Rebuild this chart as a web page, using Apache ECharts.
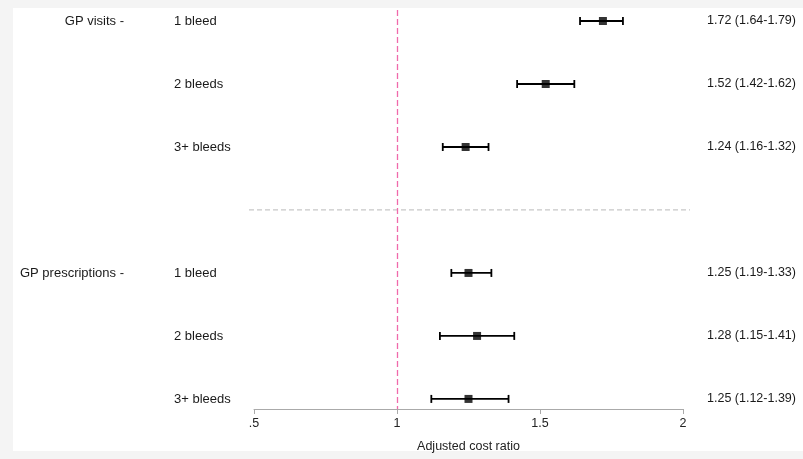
<!DOCTYPE html>
<html>
<head>
<meta charset="utf-8">
<script src="https://cdn.jsdelivr.net/npm/echarts@6/dist/echarts.min.js"></script>
<style>
html,body{margin:0;padding:0;background:#f4f4f4;}
#main{width:803px;height:459px;}
</style>
</head>
<body>
<div id="main"></div>
<script>
// ---- data ----
const groupLabels = ['GP visits -', '', '', 'GP prescriptions -', '', ''];
const subLabels = ['1 bleed', '2 bleeds', '3+ bleeds', '1 bleed', '2 bleeds', '3+ bleeds'];
const estimates = [1.72, 1.52, 1.24, 1.25, 1.28, 1.25];
const lowerCI = [1.64, 1.42, 1.16, 1.19, 1.15, 1.12];
const upperCI = [1.79, 1.62, 1.32, 1.33, 1.41, 1.39];
const rowPositions = [0, 1, 2, 4, 5, 6];
const separatorRow = 3;
const xTickLabels = {0.5: '.5', 1: '1', 1.5: '1.5', 2: '2'};
const referenceValue = 1;
const xTitle = 'Adjusted cost ratio';

// ---- chart ----
const chart = echarts.init(document.getElementById('main'));
const font = 'Liberation Sans, Arial, Helvetica, sans-serif';
const ciData = estimates.map((e, i) => [e, rowPositions[i], lowerCI[i], upperCI[i]]);
const labelData = estimates.map((e, i) => [e, rowPositions[i], lowerCI[i], upperCI[i], i]);

chart.setOption({
  backgroundColor: '#f4f4f4',
  animation: false,
  graphic: [{
    type: 'rect', z: -10, silent: true,
    shape: {x: 13, y: 8, width: 790, height: 443},
    style: {fill: '#ffffff'}
  }],
  grid: {left: 254, right: 120, top: 10, bottom: 50},
  xAxis: {
    type: 'value', min: 0.5, max: 2, interval: 0.5, position: 'bottom',
    name: xTitle, nameLocation: 'middle', nameGap: 31,
    nameTextStyle: {color: '#222', fontSize: 12.5, fontFamily: font},
    axisLine: {show: true, onZero: false, lineStyle: {color: '#aaaaaa', width: 1}},
    axisTick: {show: true, inside: false, length: 5, lineStyle: {color: '#aaaaaa'}},
    axisLabel: {color: '#222', fontSize: 12.5, fontFamily: font, margin: 8,
      formatter: v => xTickLabels[v] !== undefined ? xTickLabels[v] : ''},
    splitLine: {show: false}
  },
  yAxis: {
    type: 'value', inverse: true, min: -0.175, max: 6.16, show: false
  },
  series: [
    {
      type: 'custom',
      data: ciData,
      z: 5,
      renderItem: function (params, api) {
        const y = api.value(1);
        const p0 = api.coord([api.value(2), y]);
        const p1 = api.coord([api.value(3), y]);
        const h = 4;
        const st = {stroke: '#000', lineWidth: 1.8};
        return {
          type: 'group',
          children: [
            {type: 'line', shape: {x1: p0[0], y1: p0[1], x2: p1[0], y2: p1[1]}, style: st},
            {type: 'line', shape: {x1: p0[0], y1: p0[1] - h, x2: p0[0], y2: p0[1] + h}, style: st},
            {type: 'line', shape: {x1: p1[0], y1: p1[1] - h, x2: p1[0], y2: p1[1] + h}, style: st}
          ]
        };
      },
      markLine: {
        silent: true, symbol: 'none', label: {show: false},
        lineStyle: {color: '#f06aab', type: [6, 3], width: 1.3},
        data: [{xAxis: referenceValue}]
      }
    },
    {
      type: 'scatter',
      data: estimates.map((e, i) => [e, rowPositions[i]]),
      symbol: 'rect', symbolSize: 8,
      itemStyle: {color: '#000'},
      z: 6
    },
    {
      type: 'custom',
      data: [[referenceValue, separatorRow]],
      z: 2,
      renderItem: function (params, api) {
        const p = api.coord([api.value(0), api.value(1)]);
        return {
          type: 'line',
          shape: {x1: 249, y1: p[1], x2: 690, y2: p[1]},
          style: {stroke: '#c8c8c8', lineWidth: 1.2, lineDash: [5, 3]}
        };
      }
    },
    {
      type: 'custom',
      data: labelData,
      clip: false,
      z: 7,
      renderItem: function (params, api) {
        const i = api.value(4);
        const p = api.coord([api.value(0), api.value(1)]);
        const ts = {fill: '#1a1a1a', fontSize: 13, fontFamily: font, verticalAlign: 'middle'};
        const ci = estimates[i].toFixed(2) + ' (' + lowerCI[i].toFixed(2) + '-' + upperCI[i].toFixed(2) + ')';
        return {
          type: 'group',
          children: [
            {type: 'text', style: Object.assign({}, ts, {x: 124, y: p[1], text: groupLabels[i], align: 'right'})},
            {type: 'text', style: Object.assign({}, ts, {x: 174, y: p[1], text: subLabels[i], align: 'left'})},
            {type: 'text', style: Object.assign({}, ts, {x: 707, y: p[1], text: ci, align: 'left', fontSize: 12.5})}
          ]
        };
      }
    }
  ]
});
</script>
</body>
</html>
